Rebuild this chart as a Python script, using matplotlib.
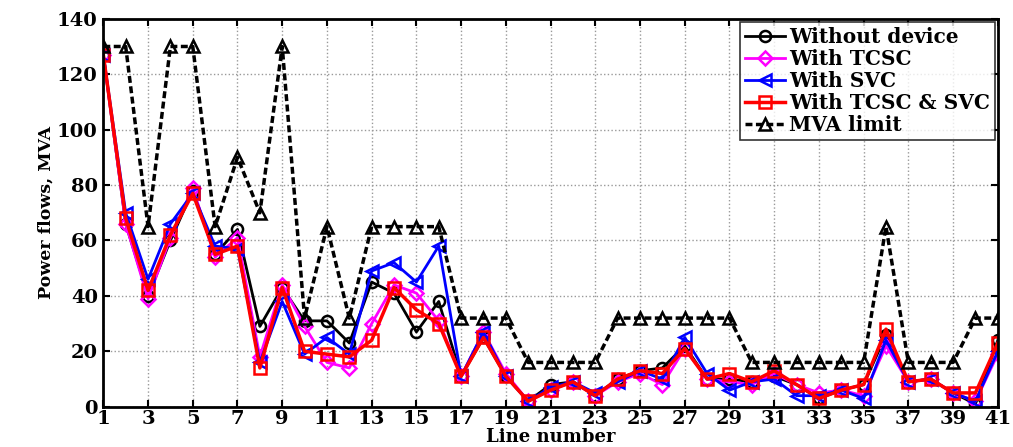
import matplotlib
matplotlib.use("Agg")
import matplotlib.pyplot as plt
import numpy as np

lines = list(range(1, 42))
without_device = [127, 66, 40, 60, 78, 55, 64, 29, 43, 31, 31, 23, 45, 41, 27, 38, 11, 25, 11, 2,
                  8, 9, 4, 10, 13, 14, 22, 10, 10, 9, 11, 8, 3, 6, 8, 26, 9, 10, 5, 1, 24]
with_tcsc = [127, 66, 39, 61, 79, 54, 61, 18, 44, 29, 16, 14, 30, 44, 41, 31, 11, 27, 12, 2,
             6, 9, 4, 9, 12, 8, 21, 10, 9, 8, 12, 8, 5, 6, 4, 22, 9, 10, 5, 2, 19]
with_svc = [127, 70, 46, 66, 77, 58, 57, 16, 38, 19, 25, 19, 49, 52, 45, 58, 11, 27, 11, 2,
            7, 9, 5, 9, 13, 10, 25, 12, 6, 9, 10, 4, 4, 6, 3, 24, 9, 10, 5, 2, 20]
with_both = [127, 68, 42, 62, 77, 55, 58, 14, 43, 20, 19, 18, 24, 43, 35, 30, 11, 25, 11, 2,
             6, 9, 4, 10, 13, 12, 21, 10, 12, 9, 13, 8, 3, 6, 8, 28, 9, 10, 5, 5, 23]
mva_limit = [130, 130, 65, 130, 130, 65, 90, 70, 130, 32, 65, 32, 65, 65, 65, 65, 32, 32, 32, 16,
             16, 16, 16, 32, 32, 32, 32, 32, 32, 16, 16, 16, 16, 16, 16, 65, 16, 16, 16, 32, 32]
labels = ["Without device", "With TCSC", "With SVC", "With TCSC & SVC", "MVA limit"]

plt.rcParams['font.family'] = ['DejaVu Serif']
plt.rcParams['font.weight'] = 'bold'

fig = plt.figure(figsize=(10.13, 4.47), dpi=100)
ax = fig.add_axes([0.102, 0.09, 0.883, 0.868])

ax.plot(lines, without_device, '-o', color='black', lw=2, ms=8, mfc='none', mew=1.8, label=labels[0])
ax.plot(lines, with_tcsc, '-D', color='magenta', lw=2, ms=7, mfc='none', mew=1.8, label=labels[1])
ax.plot(lines, with_svc, '-<', color='blue', lw=2, ms=8, mfc='none', mew=1.8, label=labels[2])
ax.plot(lines, with_both, '-s', color='red', lw=2.5, ms=8, mfc='none', mew=1.8, label=labels[3])
ax.plot(lines, mva_limit, '--^', color='black', lw=2.5, ms=8, mfc='none', mew=1.8,
        dashes=(2, 1), label=labels[4])

ax.set_xlim(1, 41)
ax.set_ylim(0, 140)
ax.set_xticks(range(1, 42, 2))
ax.set_yticks(range(0, 141, 20))
ax.tick_params(direction='in', labelsize=14, width=1.5, length=5, top=True, right=True)
ax.tick_params(axis='x', pad=2)
ax.tick_params(axis='y', pad=4)
for lab in ax.get_xticklabels() + ax.get_yticklabels():
    lab.set_fontweight('bold')
ax.grid(True, linestyle=':', color='#999999', lw=1)
for s in ax.spines.values():
    s.set_linewidth(2)

ax.set_xlabel("Line number", fontsize=13, fontweight='bold', labelpad=0)
ax.set_ylabel("Power flows, MVA", fontsize=12.5, fontweight='bold', labelpad=2)

leg = ax.legend(loc='upper right', fontsize=14.5, frameon=True, fancybox=False,
                edgecolor='black', borderpad=0.25, labelspacing=0.1, handlelength=2.0,
                handletextpad=0.2, borderaxespad=0.15)
leg.get_frame().set_linewidth(1.2)
for t in leg.get_texts():
    t.set_fontweight('bold')

fig.savefig("out.png", dpi=100)
